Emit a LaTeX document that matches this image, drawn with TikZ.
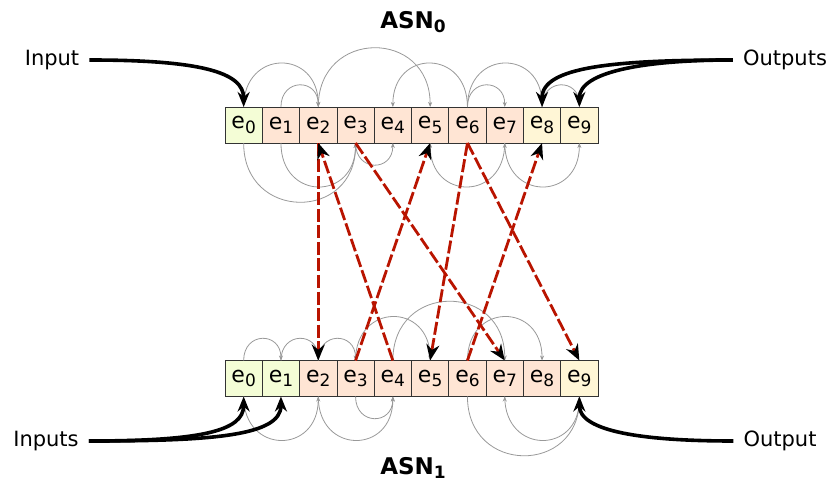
\documentclass[tikz,border=0pt]{standalone}
\usepackage{fontspec}
\setmainfont{DejaVu Sans}
\usepackage{tikz}
\usetikzlibrary{arrows.meta,positioning}

\definecolor{cellgreen}{RGB}{244,253,214}
\definecolor{cellpink}{RGB}{255,229,212}
\definecolor{cellcream}{RGB}{255,246,214}
\definecolor{linkred}{RGB}{185,20,0}

\newcommand{\lowidx}[1]{\raisebox{-0.35ex}{\fontsize{17}{17}\selectfont #1}}
\newcommand{\elem}[1]{e\lowidx{#1}}

\begin{document}
\begin{tikzpicture}[->,>={Stealth[length=5pt,width=4pt]},x=1pt,y=1pt,
                    node distance=0pt]
  \tikzstyle{cell}=[draw=black!80,line width=0.8pt,minimum width=37.3pt,
                    minimum height=36pt,inner sep=0pt,outer sep=0pt,
                    font=\fontsize{22}{26}\selectfont]
  \tikzstyle{hop}=[draw=black!40,line width=0.8pt,looseness=2]
  \tikzstyle{feed}=[line width=3.6pt,-{Stealth[length=15pt,width=12pt]}]
  \tikzstyle{link}=[draw=linkred,line width=2.8pt,dash pattern=on 13pt off 3.5pt,
                    -{Stealth[black,length=16pt,width=13pt]}]
  \tikzstyle{lbl}=[inner sep=10pt,font=\fontsize{21}{25}\selectfont]
  \tikzstyle{title}=[font=\fontsize{23}{27}\selectfont\bfseries]

  \useasboundingbox (0,0) rectangle (832,485);

  % upper array
  \node[cell,fill=cellgreen] (t0) at (243.65,360) {\elem{0}};
  \node[cell,fill=cellpink,right=of t0] (t1) {\elem{1}};
  \node[cell,fill=cellpink,right=of t1] (t2) {\elem{2}};
  \node[cell,fill=cellpink,right=of t2] (t3) {\elem{3}};
  \node[cell,fill=cellpink,right=of t3] (t4) {\elem{4}};
  \node[cell,fill=cellpink,right=of t4] (t5) {\elem{5}};
  \node[cell,fill=cellpink,right=of t5] (t6) {\elem{6}};
  \node[cell,fill=cellpink,right=of t6] (t7) {\elem{7}};
  \node[cell,fill=cellcream,right=of t7] (t8) {\elem{8}};
  \node[cell,fill=cellcream,right=of t8] (t9) {\elem{9}};

  % lower array
  \node[cell,fill=cellgreen] (b0) at (243.65,106.5) {\elem{0}};
  \node[cell,fill=cellgreen,right=of b0] (b1) {\elem{1}};
  \node[cell,fill=cellpink,right=of b1] (b2) {\elem{2}};
  \node[cell,fill=cellpink,right=of b2] (b3) {\elem{3}};
  \node[cell,fill=cellpink,right=of b3] (b4) {\elem{4}};
  \node[cell,fill=cellpink,right=of b4] (b5) {\elem{5}};
  \node[cell,fill=cellpink,right=of b5] (b6) {\elem{6}};
  \node[cell,fill=cellpink,right=of b6] (b7) {\elem{7}};
  \node[cell,fill=cellpink,right=of b7] (b8) {\elem{8}};
  \node[cell,fill=cellcream,right=of b8] (b9) {\elem{9}};

  \node[title] (asn0) at (413,463) {ASN\lowidx{0}};
  \node[title] (asn1) at (413,17) {ASN\lowidx{1}};

  \node[lbl] (input) at (52,425) {Input};
  \node[lbl] (outputs) at (785,425) {Outputs};
  \node[lbl] (inputs) at (46,44) {Inputs};
  \node[lbl] (output) at (780,44) {Output};

  % arcs inside ASN0
  \path[hop]
    (t0.north) edge[out=90,in=90] (t2.north)
    (t1.north) edge[out=90,in=90] (t2.north)
    (t2.north) edge[out=90,in=90,looseness=1.8] (t5.north)
    (t6.north) edge[out=90,in=90] (t4.north)
    (t6.north) edge[out=90,in=90] (t7.north)
    (t6.north) edge[out=90,in=90] (t8.north)
    (t8.north) edge[out=90,in=90] (t9.north)
    (t0.south) edge[out=-90,in=-90,looseness=1.8] (t3.south)
    (t1.south) edge[out=-90,in=-90] (t3.south)
    (t3.south) edge[out=-90,in=-90] (t4.south)
    (t7.south) edge[out=-90,in=-90] (t5.south)
    (t7.south) edge[out=-90,in=-90] (t9.south);

  % arcs inside ASN1
  \path[hop]
    (b0.north) edge[out=90,in=90] (b1.north)
    (b1.north) edge[out=90,in=90] (b2.north)
    (b2.north) edge[out=90,in=90] (b3.north)
    (b3.north) edge[out=90,in=90] (b5.north)
    (b4.north) edge[out=90,in=90,looseness=1.8] (b7.north)
    (b6.north) edge[out=90,in=90] (b8.north)
    (b0.south) edge[out=-90,in=-90] (b2.south)
    (b2.south) edge[out=-90,in=-90] (b4.south)
    (b3.south) edge[out=-90,in=-90] (b4.south)
    (b6.south) edge[out=-90,in=-90,looseness=1.8] (b9.south)
    (b7.south) edge[out=-90,in=-90] (b9.south);

  % links between the two
  \draw[link] (t2.south) -- (b2.north);
  \draw[link] (b4.north) -- (t2.south);
  \draw[link] (b3.north) -- (t5.south);
  \draw[link] (t3.south) -- (b7.north);
  \draw[link] (t6.south) -- (b5.north);
  \draw[link] (t6.south) -- (b9.north);
  \draw[link] (b6.north) -- (t8.south);

  % in and out
  \draw[feed] (input.east) to[out=0,in=90,out distance=110pt,in distance=35pt] (t0.north);
  \draw[feed] (outputs.west) to[out=180,in=90,out distance=120pt,in distance=40pt] (t8.north);
  \draw[feed] (outputs.west) to[out=180,in=90,out distance=90pt,in distance=35pt] (t9.north);
  \draw[feed] (inputs.east) to[out=0,in=-90,out distance=110pt,in distance=35pt] (b0.south);
  \draw[feed] (inputs.east) to[out=0,in=-90,out distance=120pt,in distance=40pt] (b1.south);
  \draw[feed] (output.west) to[out=180,in=-90,out distance=90pt,in distance=35pt] (b9.south);

\end{tikzpicture}
\end{document}
